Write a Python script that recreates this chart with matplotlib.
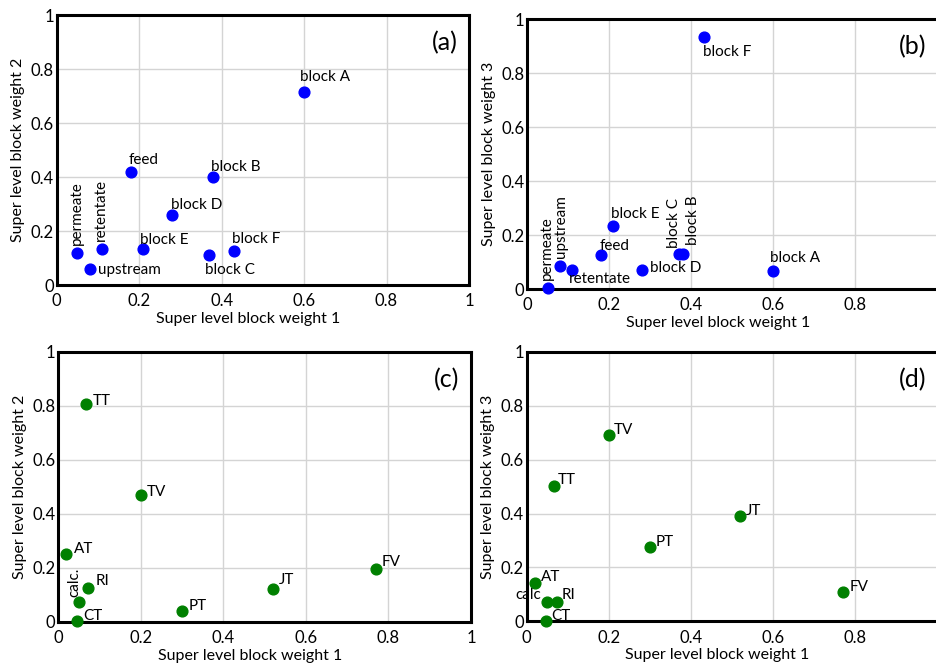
import matplotlib.pyplot as plt

plt.rcParams["font.family"] = ["Lato", "DejaVu Sans"]
plt.rcParams["font.size"] = 11

# process blocks
block_names = ["block A", "feed", "block B", "block D", "block E",
               "block C", "block F", "permeate", "retentate", "upstream"]
block_w1 = [0.60, 0.18, 0.38, 0.28, 0.21, 0.37, 0.43, 0.05, 0.11, 0.08]
block_w2 = [0.715, 0.42, 0.40, 0.26, 0.135, 0.11, 0.125, 0.12, 0.135, 0.06]
block_w3 = [0.065, 0.125, 0.13, 0.07, 0.235, 0.13, 0.935, 0.005, 0.07, 0.085]

# process variables
var_names = ["TT", "TV", "AT", "FV", "JT", "RI", "calc.", "PT", "CT"]
var_w1 = [0.067, 0.20, 0.02, 0.77, 0.52, 0.073, 0.05, 0.30, 0.047]
var_w2 = [0.805, 0.47, 0.25, 0.195, 0.12, 0.125, 0.074, 0.041, 0.002]
var_w3 = [0.504, 0.69, 0.144, 0.11, 0.39, 0.072, 0.072, 0.277, 0.001]

# label placement: (dx, dy) in pixels, optional ha, va, rotation
offs_a = {
    "block A": (-4, 11), "feed": (-2, 8), "block B": (-2, 6), "block D": (-1, 6),
    "block E": (-3, 5), "block F": (-2, 8), "block C": (-4, -8, "left", "top"),
    "upstream": (8, -1, "left", "center"),
    "permeate": (0, 8, "center", "bottom", 90), "retentate": (-1, 8, "center", "bottom", 90),
}
offs_b = {
    "block F": (-1, -8, "left", "top"), "block E": (-2, 8), "feed": (-2, 5),
    "block C": (-5, 6, "center", "bottom", 90), "block B": (10, 9, "center", "bottom", 90),
    "block D": (8, 2, "left", "center"), "block A": (-3, 9),
    "permeate": (-1, 8, "center", "bottom", 90), "upstream": (1, 8, "center", "bottom", 90),
    "retentate": (-4, -2, "left", "top"),
}
offs_c = {
    "TT": (7, -1), "TV": (6, -1), "AT": (8, 1), "FV": (6, 3), "JT": (6, 5),
    "RI": (7, 3), "calc.": (-4, 5, "center", "bottom", 90), "PT": (7, 1), "CT": (6, 1),
}
offs_d = {
    "TV": (5, 1), "TT": (4, 2), "JT": (6, 1), "PT": (6, 1), "AT": (6, 2),
    "calc.": (-6, 3, "right", "baseline"), "RI": (5, 3), "CT": (5, 1), "FV": (7, 1),
}

W, H = 937, 663
fig = plt.figure(figsize=(W / 100, H / 100), dpi=100)


def make_ax(left, top, right, bottom):
    return fig.add_axes([left / W, 1 - bottom / H, (right - left) / W, (bottom - top) / H])


def panel(ax, x, y, names, offs, color, ylabel, tag, show_one=True):
    ax.scatter(x, y, s=60, color=color, zorder=3, clip_on=False)
    for n, xi, yi in zip(names, x, y):
        o = offs[n]
        dx, dy = o[0], o[1]
        ha = o[2] if len(o) > 2 else "left"
        va = o[3] if len(o) > 3 else "baseline"
        rot = o[4] if len(o) > 4 else 0
        txt = "calc" if (n == "calc." and tag == "(d)") else n
        ax.annotate(txt, (xi, yi), xytext=(dx, dy), textcoords="offset pixels",
                    ha=ha, va=va, rotation=rot, fontsize=11, zorder=4)
    ax.set_xlim(0, 1)
    ax.set_ylim(0, 1)
    ticks = [0, 0.2, 0.4, 0.6, 0.8, 1]
    lbl = ["0", "0.2", "0.4", "0.6", "0.8", "1"]
    ax.set_xticks(ticks)
    ax.set_xticklabels(lbl if show_one else lbl[:-1] + [""])
    ax.set_yticks(ticks)
    ax.set_yticklabels(lbl)
    ax.tick_params(length=0, labelsize=12)
    ax.tick_params(axis="y", pad=2)
    ax.tick_params(axis="x", pad=6)
    ax.grid(True, color="#d4d4d4", linewidth=1)
    ax.set_axisbelow(True)
    for s in ax.spines.values():
        s.set_linewidth(2.2)
        s.set_color("black")
    ax.set_xlabel("Super level block weight 1", fontsize=11.5)
    ax.set_ylabel(ylabel, fontsize=11.5)
    ax.xaxis.set_label_coords(0.464, -0.1)
    ax.yaxis.set_label_coords(-0.076, 0.5)
    ax.text(0.972, 0.94, tag, transform=ax.transAxes, ha="right", va="top", fontsize=18)


ax_a = make_ax(56.7, 15, 469, 285)
ax_b = make_ax(527.3, 19, 937.5, 289)
ax_c = make_ax(58, 351.7, 471, 621.7)
ax_d = make_ax(526.7, 352, 937.5, 621.3)

panel(ax_a, block_w1, block_w2, block_names, offs_a, "blue", "Super level block weight 2", "(a)")
panel(ax_b, block_w1, block_w3, block_names, offs_b, "blue", "Super level block weight 3", "(b)", show_one=False)
panel(ax_c, var_w1, var_w2, var_names, offs_c, "green", "Super level block weight 2", "(c)")
panel(ax_d, var_w1, var_w3, var_names, offs_d, "green", "Super level block weight 3", "(d)", show_one=False)

fig.savefig("out.png", dpi=100)
